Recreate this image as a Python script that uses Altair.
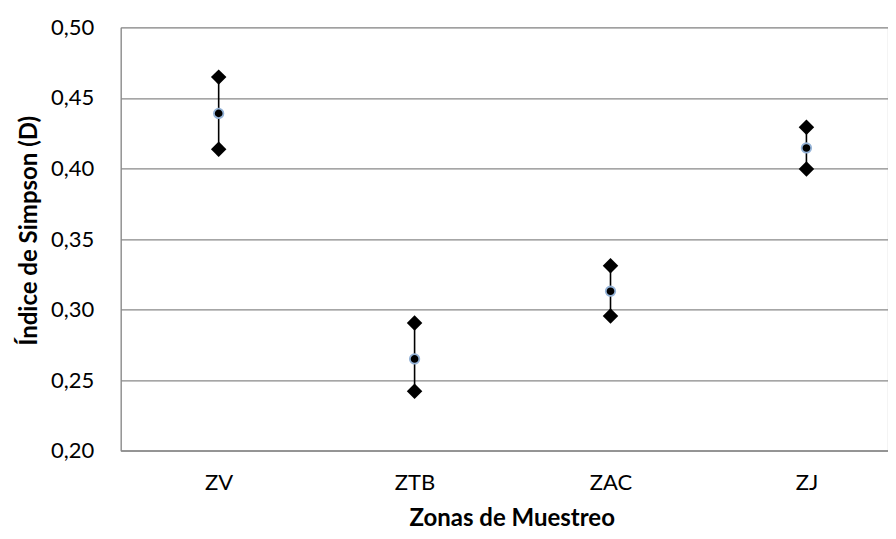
import altair as alt
import pandas as pd

zones = ["ZV", "ZTB", "ZAC", "ZJ"]
mean_vals = [0.439, 0.265, 0.313, 0.4145]
low_vals = [0.4136, 0.2422, 0.2955, 0.3996]
high_vals = [0.4647, 0.2904, 0.331, 0.4291]
y_ticks = [0.20, 0.25, 0.30, 0.35, 0.40, 0.45, 0.50]

df = pd.DataFrame({"zona": zones, "media": mean_vals, "bajo": low_vals, "alto": high_vals})
ends = pd.DataFrame({
    "zona": zones + zones,
    "valor": low_vals + high_vals,
})

FONT = "Lato"
GRID = "#888888"

x_enc = alt.X(
    "zona:N",
    sort=zones,
    scale=alt.Scale(type="point", padding=0.4574, align=0.5466),
    axis=alt.Axis(
        title="Zonas de Muestreo",
        labelAngle=0,
        labelFontSize=22,
        labelFont=FONT,
        labelColor="#000000",
        labelPadding=22,
        ticks=False,
        domainColor=GRID,
        domainWidth=1.3,
        grid=False,
        titleFont=FONT,
        titleFontSize=24,
        titleFontWeight="bold",
        titleColor="#000000",
        titleBaseline="alphabetic",
        titleX=391,
        titleY=75,
    ),
)

y_scale = alt.Scale(domain=[0.2, 0.5], nice=False, zero=False)
y_axis = alt.Axis(
    title="Índice de Simpson (D)",
    values=y_ticks,
    labelExpr="replace(format(datum.value, '.2f'), '.', ',')",
    labelFontSize=22,
    labelFont=FONT,
    labelColor="#000000",
    labelPadding=27,
    ticks=False,
    domainColor=GRID,
    domainWidth=1.3,
    gridColor=GRID,
    gridWidth=1.3,
    titleFont=FONT,
    titleFontSize=24,
    titleFontWeight="bold",
    titleColor="#000000",
    titleBaseline="alphabetic",
    titleX=-84,
    titleY=203,
)

rules = alt.Chart(df).mark_rule(color="#000000", strokeWidth=1.6).encode(
    x=x_enc,
    y=alt.Y("bajo:Q", scale=y_scale, axis=y_axis),
    y2="alto:Q",
)

diamonds = alt.Chart(ends).mark_point(
    shape="diamond", filled=True, color="#000000", size=240, opacity=1
).encode(
    x=alt.X("zona:N", sort=zones),
    y=alt.Y("valor:Q", scale=y_scale),
)

means = alt.Chart(df).mark_point(
    shape="circle", filled=True, fill="#000000", stroke="#95b3d7", strokeWidth=1.8, size=90, opacity=1
).encode(
    x=alt.X("zona:N", sort=zones),
    y=alt.Y("media:Q", scale=y_scale),
)

chart = alt.layer(rules, diamonds, means).properties(
    width=767,
    height=423.4,
    autosize=alt.AutoSizeParams(type="none"),
    padding={"left": 112.7, "top": 19.3, "right": 0, "bottom": 80.3},
).configure_view(stroke=None).configure(background="#ffffff")

chart.save("out.html", embed_options={"renderer": "svg", "actions": False})
